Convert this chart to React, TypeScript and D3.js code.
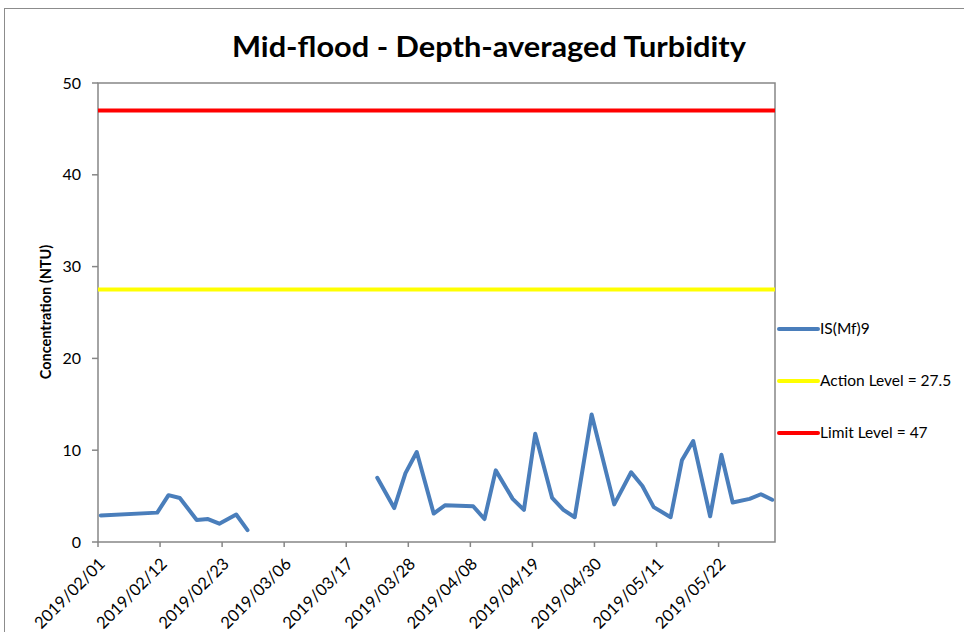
import React from "react";
import * as d3 from "d3";

const title = "Mid-flood - Depth-averaged Turbidity";
const yAxisTitle = "Concentration (NTU)";

const sampleDates = [
  "2019-02-01", "2019-02-11", "2019-02-13", "2019-02-15", "2019-02-18", "2019-02-20", "2019-02-22", "2019-02-25", "2019-02-27",
  "2019-03-15",
  "2019-03-22", "2019-03-25", "2019-03-27", "2019-03-29", "2019-04-01", "2019-04-03", "2019-04-08", "2019-04-10", "2019-04-12",
  "2019-04-15", "2019-04-17", "2019-04-19", "2019-04-22", "2019-04-24", "2019-04-26", "2019-04-29", "2019-05-03", "2019-05-06",
  "2019-05-08", "2019-05-10", "2019-05-13", "2019-05-15", "2019-05-17", "2019-05-20", "2019-05-22", "2019-05-24", "2019-05-27",
  "2019-05-29", "2019-05-31",
];
const turbidity: (number | null)[] = [
  2.9, 3.2, 5.1, 4.8, 2.4, 2.5, 2.0, 3.0, 1.3,
  null,
  7.0, 3.7, 7.5, 9.8, 3.1, 4.0, 3.9, 2.5, 7.8,
  4.7, 3.5, 11.8, 4.8, 3.5, 2.7, 13.9, 4.1, 7.6,
  6.1, 3.8, 2.7, 8.9, 11.0, 2.8, 9.5, 4.3, 4.7,
  5.2, 4.6,
];

const actionLevel = 27.5;
const limitLevel = 47;

const xTickLabels = [
  "2019/02/01", "2019/02/12", "2019/02/23", "2019/03/06", "2019/03/17", "2019/03/28",
  "2019/04/08", "2019/04/19", "2019/04/30", "2019/05/11", "2019/05/22",
];
const yTicks = [0, 10, 20, 30, 40, 50];

const legendLabels = ["IS(Mf)9", "Action Level = 27.5", "Limit Level = 47"];
const legendColors = ["#4a7ebb", "#ffff00", "#ff0000"];

const parseDash = (s: string) => {
  const [y, m, d] = s.split(/[-/]/).map(Number);
  return new Date(y, m - 1, d);
};

export default function App() {
  const W = 964;
  const H = 632;
  const left = 98, right = 775, top = 83, bottom = 542;
  const x = d3.scaleTime().domain([new Date(2019, 1, 1), new Date(2019, 5, 1)]).range([left, right]);
  const y = d3.scaleLinear().domain([0, 50]).range([bottom, top]);
  // points sit in the middle of their day
  const xMid = (d: Date) => x(d3.timeHour.offset(d, 12));

  const pts = sampleDates.map((d, i) => ({ date: parseDash(d), v: turbidity[i] }));
  const line = d3
    .line<{ date: Date; v: number | null }>()
    .defined((p) => p.v !== null)
    .x((p) => xMid(p.date))
    .y((p) => y(p.v as number));

  const axisColor = "#868686";
  const font = "Lato, 'Open Sans', sans-serif";

  return (
    <svg width={W} height={H} style={{ position: "absolute", left: 0, top: 0, background: "#fff" }}>
      <rect x={0} y={0} width={W} height={H} fill="#fff" />
      <rect x={4.5} y={8.5} width={W + 20} height={H + 20} fill="none" stroke="#8c8c8c" strokeWidth={1} />
      <text x={489} y={57} textAnchor="middle" fontFamily={font} fontWeight="bold" fontSize={29} textLength={514} lengthAdjust="spacingAndGlyphs" fill="#000">
        {title}
      </text>

      {/* plot frame */}
      <rect x={left} y={top} width={right - left} height={bottom - top} fill="none" stroke={axisColor} strokeWidth={1.5} />

      {/* y ticks */}
      {yTicks.map((t) => (
        <g key={t}>
          <line x1={left - 6} x2={left} y1={y(t)} y2={y(t)} stroke={axisColor} strokeWidth={1.5} />
          <text x={81} y={y(t)} dy="0.35em" textAnchor="end" fontFamily={font} fontSize={16} fill="#000">
            {t}
          </text>
        </g>
      ))}

      {/* x ticks */}
      {xTickLabels.map((s) => {
        const px = x(parseDash(s));
        return (
          <g key={s}>
            <line x1={px} x2={px} y1={bottom} y2={bottom + 5} stroke={axisColor} strokeWidth={1.5} />
            <text
              transform={`translate(${px + 8},${bottom + 23}) rotate(-45)`}
              textAnchor="end"
              fontFamily={font}
              fontSize={16.5}
              fill="#000"
            >
              {s}
            </text>
          </g>
        );
      })}

      <text transform={`translate(51,312) rotate(-90)`} textAnchor="middle" fontFamily={font} fontWeight="bold" fontSize={14.5} fill="#000">
        {yAxisTitle}
      </text>

      {/* reference levels */}
      <line x1={left} x2={right} y1={y(actionLevel)} y2={y(actionLevel)} stroke="#ffff00" strokeWidth={4} />
      <line x1={left} x2={right} y1={y(limitLevel)} y2={y(limitLevel)} stroke="#ff0000" strokeWidth={4} />

      {/* series */}
      <path d={line(pts) || ""} fill="none" stroke="#4a7ebb" strokeWidth={4} strokeLinejoin="round" strokeLinecap="round" />

      {/* legend */}
      {legendLabels.map((lab, i) => {
        const ly = 329 + i * 52;
        return (
          <g key={lab}>
            <line x1={779} x2={818} y1={ly} y2={ly} stroke={legendColors[i]} strokeWidth={4} strokeLinecap="round" />
            <text x={820} y={ly} dy="0.35em" fontFamily={font} fontSize={15.5} fill="#000">
              {lab}
            </text>
          </g>
        );
      })}
    </svg>
  );
}
